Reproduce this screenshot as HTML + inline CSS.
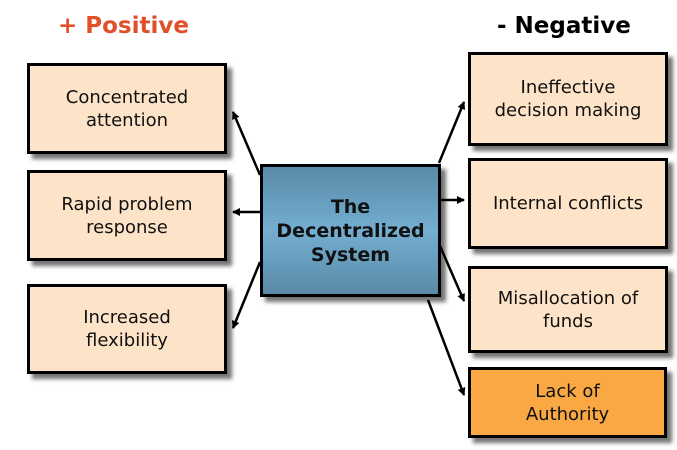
<!DOCTYPE html>
<html><head><style>
body{margin:0;width:677px;height:450px;background:#fff;position:relative;overflow:hidden;font-family:"DejaVu Sans","Liberation Sans",sans-serif;}
.b{position:absolute;box-sizing:border-box;border:3px solid #000;background:#fde3c8;display:flex;align-items:center;justify-content:center;text-align:center;font-size:18px;line-height:23px;color:#111;box-shadow:5px 5px 4px rgba(0,0,0,0.55);}
.t{position:absolute;font-weight:bold;font-size:23px;}
</style></head><body>
<div class="t" style="left:58px;top:13px;color:#e0502a">+ Positive</div>
<div class="t" style="left:497px;top:13px;color:#000">- Negative</div>
<svg width="677" height="450" style="position:absolute;left:0;top:0">
<defs><marker id="a" markerWidth="8" markerHeight="8" refX="7" refY="4" orient="auto" markerUnits="userSpaceOnUse" viewBox="0 0 8 8"><path d="M0,0L8,4L0,8z" fill="#000"/></marker></defs>
<g stroke="#000" stroke-width="2.5" marker-end="url(#a)">
<line x1="260" y1="175" x2="233" y2="112"/>
<line x1="260" y1="212" x2="233" y2="212"/>
<line x1="260" y1="262" x2="233" y2="328"/>
<line x1="439" y1="163" x2="464" y2="102"/>
<line x1="440" y1="200" x2="464" y2="200"/>
<line x1="440" y1="246" x2="464" y2="301"/>
<line x1="428" y1="300" x2="464" y2="395"/>
</g></svg>
<div class="b" style="left:27px;top:63px;width:200px;height:91px">Concentrated<br>attention</div>
<div class="b" style="left:27px;top:170px;width:200px;height:91px">Rapid problem<br>response</div>
<div class="b" style="left:27px;top:284px;width:200px;height:90px">Increased<br>flexibility</div>
<div class="b" style="left:260px;top:164px;width:181px;height:133px;background:linear-gradient(#5a8aa8,#74aed0 50%,#5a8aa8);font-weight:bold;font-size:19px;line-height:24px">The<br>Decentralized<br>System</div>
<div class="b" style="left:468px;top:52px;width:200px;height:94px">Ineffective<br>decision making</div>
<div class="b" style="left:468px;top:158px;width:200px;height:91px">Internal conflicts</div>
<div class="b" style="left:468px;top:266px;width:200px;height:87px">Misallocation of<br>funds</div>
<div class="b" style="left:468px;top:367px;width:199px;height:71px;background:#f9a843">Lack of<br>Authority</div>
</body></html>
